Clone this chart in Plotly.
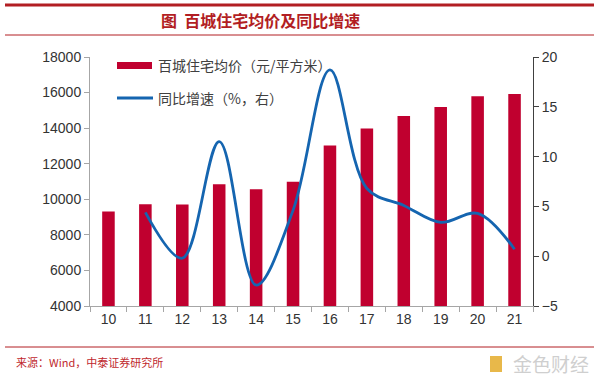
import plotly.graph_objects as go

years = ["10", "11", "12", "13", "14", "15", "16", "17", "18", "19", "20", "21"]
price = [9320, 9720, 9710, 10850, 10560, 10980, 13020, 13980, 14680, 15190, 15800, 15920]
growth_years = ["11", "12", "13", "14", "15", "16", "17", "18", "19", "20", "21"]
growth = [4.4, -0.2, 11.5, -2.9, 4.6, 18.7, 6.8, 5.1, 3.4, 4.3, 0.7]

left_ticks = [4000, 6000, 8000, 10000, 12000, 14000, 16000, 18000]
right_ticks = [-5, 0, 5, 10, 15, 20]

bar_color = "#C0002F"
line_color = "#1565B0"
red = "#B21E23"
axis_font = dict(family="Liberation Sans, Arial", size=14, color="#333333")

W, H = 600, 378
L, R, T, B = 90, 67, 57, 72
PW, PH = W - L - R, H - T - B


def px(x):
    return (x - L) / PW


def py(y):
    return (H - B - y) / PH


fig = go.Figure()
fig.add_trace(go.Bar(
    x=years, y=price, name="百城住宅均价（元/平方米）",
    marker=dict(color=bar_color, line=dict(width=0)), width=0.34,
))
fig.add_trace(go.Scatter(
    x=growth_years, y=growth, name="同比增速（%，右）", yaxis="y2",
    mode="lines", line=dict(color=line_color, width=2.8, shape="spline", smoothing=1.0),
))

fig.update_layout(
    width=W, height=H,
    margin=dict(l=L, r=R, t=T, b=B, autoexpand=False),
    paper_bgcolor="white", plot_bgcolor="white",
    showlegend=False,
    xaxis=dict(type="category", range=[-0.5, 11.5], showline=True, linecolor="#A6A6A6",
               linewidth=1, ticks="outside", tickson="boundaries", ticklen=5,
               tickcolor="#A6A6A6", tickfont=axis_font, showgrid=False, automargin=False),
    yaxis=dict(range=[4000, 18000], tickvals=left_ticks, tickformat="d", showline=True,
               linecolor="#A6A6A6", linewidth=1, ticks="outside", ticklen=5, tickcolor="#A6A6A6",
               tickfont=axis_font, showgrid=False, zeroline=False, automargin=False),
    yaxis2=dict(range=[-5, 20], tickvals=right_ticks, overlaying="y", side="right",
                showline=True, linecolor="#404040", linewidth=1, ticks="outside", ticklen=5,
                tickcolor="#404040", tickfont=axis_font, showgrid=False, zeroline=False,
                automargin=False),
)

shapes = [
    dict(type="line", xref="paper", yref="paper", x0=px(5), x1=px(594), y0=py(5), y1=py(5),
         line=dict(color=red, width=3)),
    dict(type="line", xref="paper", yref="paper", x0=px(5), x1=px(594), y0=py(35), y1=py(35),
         line=dict(color=red, width=1)),
    dict(type="line", xref="paper", yref="paper", x0=px(5), x1=px(594), y0=py(347), y1=py(347),
         line=dict(color=red, width=1)),
    # legend symbols
    dict(type="rect", xref="paper", yref="paper", x0=px(117), x1=px(152), y0=py(69), y1=py(62),
         fillcolor=bar_color, line=dict(width=0)),
    dict(type="line", xref="paper", yref="paper", x0=px(117), x1=px(153), y0=py(98), y1=py(98),
         line=dict(color=line_color, width=2.8)),
    # watermark icon
    dict(type="rect", xref="paper", yref="paper", x0=px(490), x1=px(502), y0=py(372), y1=py(356),
         fillcolor="#E8B84A", line=dict(width=0)),
]
fig.update_layout(shapes=shapes)

fig.add_annotation(text="百城住宅均价（元/平方米）", xref="paper", yref="paper",
                   x=px(156), y=py(65), showarrow=False, xanchor="left", yanchor="middle",
                   font=dict(family="Noto Sans CJK SC", size=14, color="#404040"))
fig.add_annotation(text="同比增速（%，右）", xref="paper", yref="paper",
                   x=px(156), y=py(98), showarrow=False, xanchor="left", yanchor="middle",
                   font=dict(family="Noto Sans CJK SC", size=14, color="#404040"))

fig.add_annotation(text="<b>图&nbsp;&nbsp;百城住宅均价及同比增速</b>", xref="paper", yref="paper",
                   x=px(260), y=py(20), showarrow=False, xanchor="center", yanchor="middle",
                   font=dict(family="Noto Sans CJK SC", size=16, color=red))
fig.add_annotation(text="来源：Wind，中泰证券研究所", xref="paper", yref="paper",
                   x=px(14), y=py(362), showarrow=False, xanchor="left", yanchor="middle",
                   font=dict(family="Noto Sans CJK SC", size=11, color="#C0282D"))
fig.add_annotation(text="金色财经", xref="paper", yref="paper",
                   x=px(511), y=py(363), showarrow=False, xanchor="left", yanchor="middle",
                   font=dict(family="Noto Sans CJK SC", size=19, color="#CFCFCF"))

fig.write_html("out.html", config={"displayModeBar": False},
               post_script="document.body.style.margin='0';")
